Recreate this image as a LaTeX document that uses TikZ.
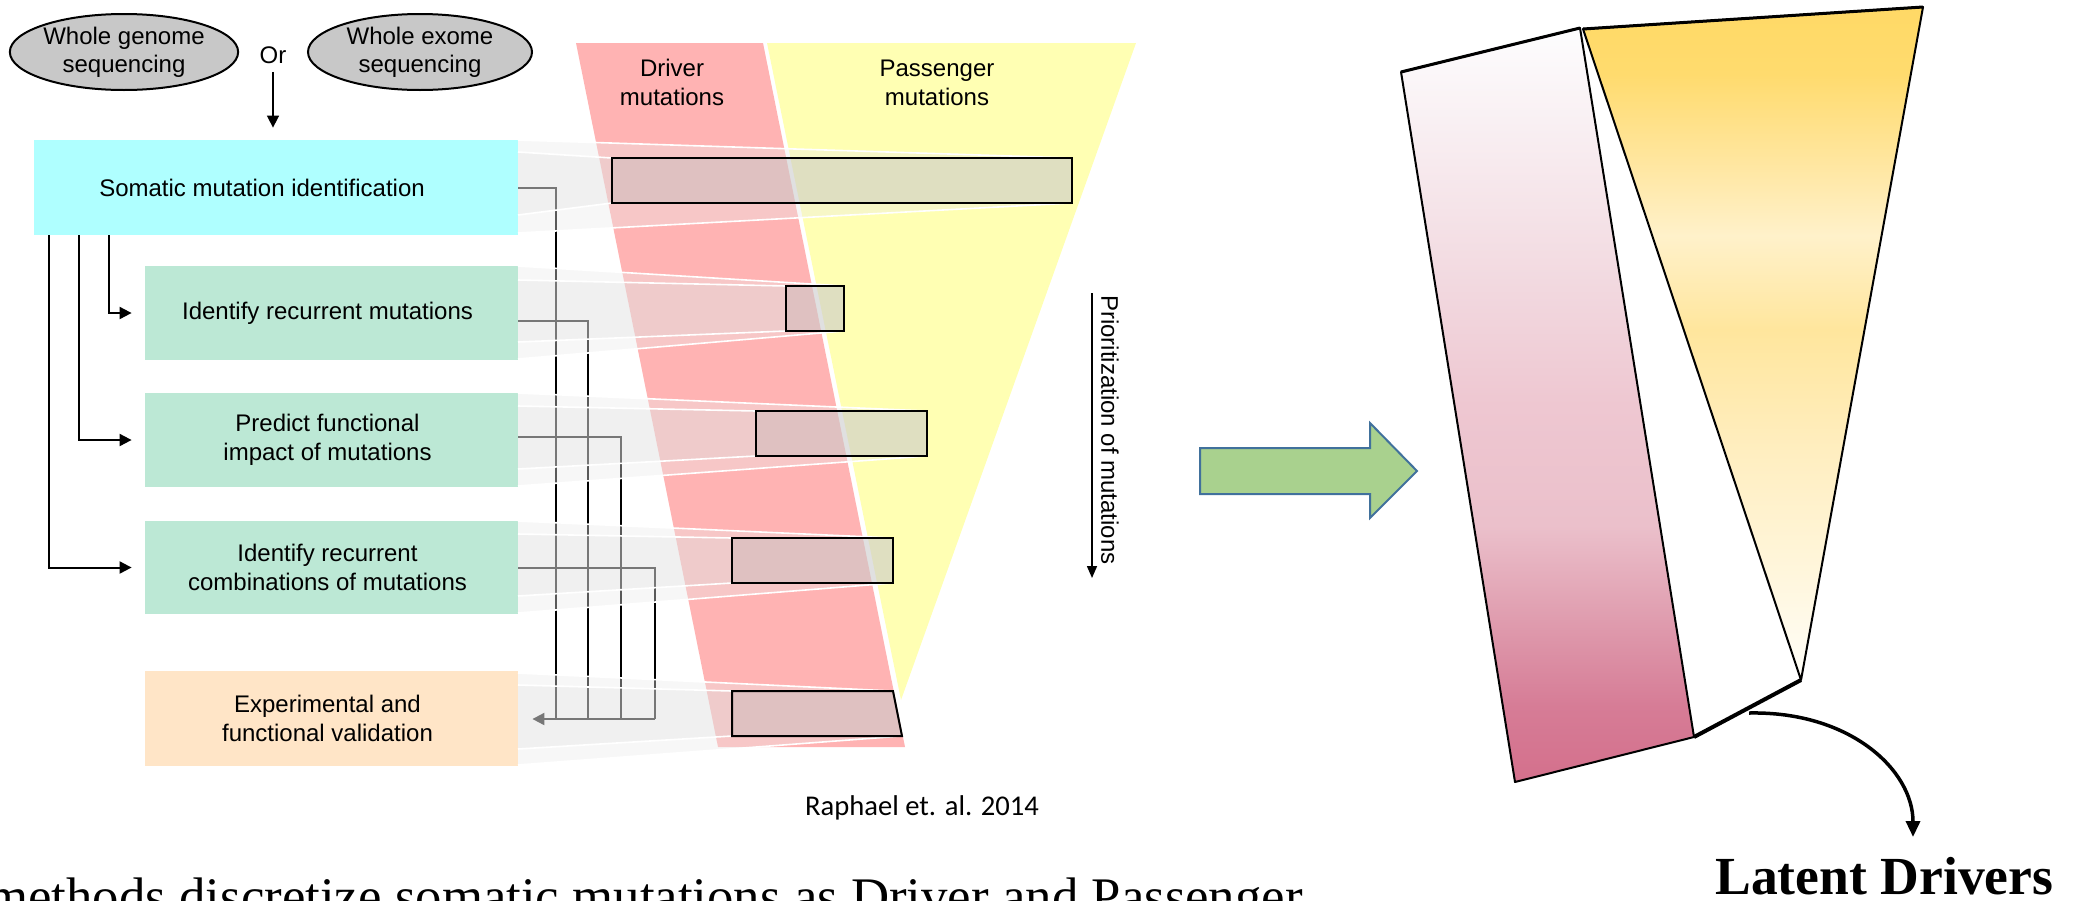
\documentclass[tikz,border=0pt]{standalone}
\usepackage{fontspec}
\setmainfont{Liberation Serif}
\newfontfamily\arialf{Liberation Sans}
\newfontfamily\calibf{Carlito}
\usetikzlibrary{arrows.meta,shapes.geometric,calc}
\definecolor{redband}{HTML}{FFB3B3}
\definecolor{yelband}{HTML}{FFFFB3}
\definecolor{cyanc}{HTML}{AFFFFF}
\definecolor{greenc}{HTML}{BCE8D5}
\definecolor{orangec}{HTML}{FFE5C7}
\definecolor{ellc}{HTML}{C8C8C8}
\definecolor{agreen}{HTML}{A9D18E}
\definecolor{ablue}{HTML}{41719C}
\definecolor{beamO}{HTML}{EAEAEA}
\definecolor{beamI}{HTML}{D9D9D9}
\definecolor{barc}{HTML}{B7B7B7}
\definecolor{pk0}{HTML}{D4708C}
\definecolor{pk1}{HTML}{D67C96}
\definecolor{pk2}{HTML}{DE98AB}
\definecolor{pk3}{HTML}{EBC0CB}
\definecolor{pk4}{HTML}{EEC7D1}
\definecolor{pk5}{HTML}{F3DDE3}
\definecolor{pk6}{HTML}{FDFDFE}
\definecolor{yl0}{HTML}{FFFEF9}
\definecolor{yl1}{HTML}{FFF6DC}
\definecolor{yl2}{HTML}{FFEEC0}
\definecolor{yl3}{HTML}{FFE69D}
\definecolor{yl4}{HTML}{FFF1CA}
\definecolor{yl5}{HTML}{FFE7A3}
\definecolor{yl6}{HTML}{FFDB6E}
\definecolor{yl7}{HTML}{FFD966}
\pgfdeclareverticalshading{pinkshade}{100bp}{color(0bp)=(pk0); color(25bp)=(pk0); color(30bp)=(pk1); color(35bp)=(pk2); color(42bp)=(pk3); color(50bp)=(pk4); color(60bp)=(pk5); color(75bp)=(pk6); color(100bp)=(pk6)}
\pgfdeclareverticalshading{yelshade}{100bp}{color(0bp)=(yl0); color(25bp)=(yl0); color(33bp)=(yl1); color(42bp)=(yl2); color(51bp)=(yl3); color(58bp)=(yl4); color(63bp)=(yl5); color(70bp)=(yl6); color(75bp)=(yl7); color(100bp)=(yl7)}
\begin{document}
\begin{tikzpicture}[x=0.5pt,y=-0.5pt,
  boxtxt/.style={font={\arialf\fontsize{12pt}{14.5pt}\selectfont}},
  flowbox/.style={rectangle, draw=none, inner sep=0pt, align=center, boxtxt},
  ell/.style={ellipse, draw=black, line width=1pt, fill=ellc, inner sep=0pt, minimum width=112pt, minimum height=38pt, align=center, font={\arialf\fontsize{12pt}{14pt}\selectfont}},
  conn/.style={draw=black, line width=1pt},
  tri/.style={-{Triangle[length=6pt,width=6pt]}},
  outerbeam/.style={fill=beamO, fill opacity=0.38, draw=none},
  innerbeam/.style={fill=beamI, fill opacity=0.234, draw=none},
  beamedge/.style={draw=white, line width=0.8pt},
  barbox/.style={fill=barc, fill opacity=0.36, draw=black, line width=1pt},
  bandlbl/.style={align=center, font={\arialf\fontsize{12pt}{14.5pt}\selectfont}}
]
\useasboundingbox (0,0) rectangle (2080,900);

% funnel bands
\fill[redband] (576,43) -- (763,43) -- (905,747) -- (718,747) -- cycle;
\fill[yelband] (767,43) -- (1136,43) -- (901,700) -- cycle;

% ellipses and Or
\node[ell] (wgs) at (124,52) {Whole genome\\sequencing};
\node[ell] (wes) at (420,52) {Whole exome\\sequencing};
\node[font={\arialf\fontsize{12pt}{14pt}\selectfont}, inner sep=1pt] (or) at (273,55) {Or};

% flow boxes
\node[flowbox, fill=cyanc, minimum width=242pt, minimum height=47.5pt] (cyan) at (276,187.5) {\hspace*{-14pt}Somatic mutation identification};
\node[flowbox, fill=greenc, minimum width=186.5pt, minimum height=47pt] (g1) at (331.5,313) {\hspace*{-4pt}Identify recurrent mutations};
\node[flowbox, fill=greenc, minimum width=186.5pt, minimum height=47pt] (g2) at (331.5,440) {\hspace*{-4pt}Predict functional\\\hspace*{-4pt}impact of mutations};
\node[flowbox, fill=greenc, minimum width=186.5pt, minimum height=46.5pt] (g3) at (331.5,567.5) {\hspace*{-4pt}Identify recurrent\\\hspace*{-4pt}combinations of mutations};
\node[flowbox, fill=orangec, minimum width=186.5pt, minimum height=47.5pt] (orange) at (331.5,718.5) {\hspace*{-4pt}Experimental and\\\hspace*{-4pt}functional validation};

% top arrow
\draw[conn, line width=0.8pt, tri, shorten <=3pt, shorten >=6pt] (or.south) -- (or.south |- cyan.north);

% left connectors
\draw[conn, tri, shorten >=6.5pt] ([xshift=37.5pt]cyan.south west) |- (g1.west);
\draw[conn, tri, shorten >=6.5pt] ([xshift=22.75pt]cyan.south west) |- (g2.west);
\draw[conn, tri, shorten >=6.5pt] ([xshift=7.5pt]cyan.south west) |- (g3.west);

% right connectors
\coordinate (v1) at (556,719);
\coordinate (v2) at (588,719);
\coordinate (v3) at (621,719);
\coordinate (v4) at (655,719);
\draw[conn] (cyan.east) -| (v1);
\draw[conn] ([yshift=-4pt]g1.east) -| (v2);
\draw[conn] ([yshift=1.5pt]g2.east) -| (v3);
\draw[conn] (g3.east) -| (v4);
\draw[conn, -{Triangle[length=6pt,width=6pt]}, shorten >=7pt] (v4) -- (orange.east |- v4);

% beams: box 1
\path[outerbeam] (518,140) -- (1072,158) -- (1072,203) -- (518,233) -- cycle;
\path[innerbeam] (518,152) -- (612,158) -- (612,203) -- (518,215) -- cycle;
\draw[beamedge] (518,140) -- (1072,158) (518,233) -- (1072,203);
\draw[beamedge] (518,152) -- (612,158) (518,215) -- (612,203);
% box 2
\path[outerbeam] (518,266) -- (844,286) -- (844,331) -- (518,359) -- cycle;
\path[innerbeam] (518,280) -- (786,286) -- (786,331) -- (518,342) -- cycle;
\draw[beamedge] (518,266) -- (844,286) (518,359) -- (844,331);
\draw[beamedge] (518,280) -- (786,286) (518,342) -- (786,331);
% box 3
\path[outerbeam] (518,393) -- (927,411) -- (927,456) -- (518,486) -- cycle;
\path[innerbeam] (518,406) -- (756,411) -- (756,456) -- (518,469) -- cycle;
\draw[beamedge] (518,393) -- (927,411) (518,486) -- (927,456);
\draw[beamedge] (518,406) -- (756,411) (518,469) -- (756,456);
% box 4
\path[outerbeam] (518,521) -- (893,538) -- (893,583) -- (518,613) -- cycle;
\path[innerbeam] (518,534) -- (732,538) -- (732,583) -- (518,596) -- cycle;
\draw[beamedge] (518,521) -- (893,538) (518,613) -- (893,583);
\draw[beamedge] (518,534) -- (732,538) (518,596) -- (732,583);
% box 5
\path[outerbeam] (518,673) -- (893,691) -- (902,736) -- (518,765) -- cycle;
\path[innerbeam] (518,685) -- (732,691) -- (732,736) -- (518,749) -- cycle;
\draw[beamedge] (518,673) -- (893,691) (518,765) -- (902,736);
\draw[beamedge] (518,685) -- (732,691) (518,749) -- (732,736);

% bars
\draw[barbox] (612,158) rectangle (1072,203);
\draw[barbox] (786,286) rectangle (844,331);
\draw[barbox] (756,411) rectangle (927,456);
\draw[barbox] (732,538) rectangle (893,583);
\draw[barbox] (732,691) -- (893,691) -- (902,736) -- (732,736) -- cycle;

% band labels
\node[bandlbl] (drv) at (672,82.5) {Driver\\mutations};
\node[bandlbl] (psg) at (937,82.5) {Passenger\\mutations};

% prioritization
\coordinate (pa) at (1092,293);
\coordinate (pb) at (1092,578);
\draw[line width=0.8pt, -{Triangle[length=6pt,width=5pt]}] (pa) -- (pb);
\node[rotate=-90, boxtxt, inner sep=0pt] (prio) at (1110,430) {Prioritization of mutations};

% reference
\node[font={\calibf\fontsize{14.3pt}{17pt}\selectfont}, anchor=base, inner sep=0pt] (ref) at (922,815) {Raphael et. al. 2014};

% green block arrow
\draw[fill=agreen, draw=ablue, line width=1pt, line join=miter] (1200,448) -- (1370,448) -- (1370,423) -- (1417,471) -- (1370,518) -- (1370,494) -- (1200,494) -- cycle;

% right figure
\path[shading=pinkshade] (1401,72) -- (1580,28) -- (1694,737) -- (1515,782) -- cycle;
\draw[line width=1pt, line join=round] (1401,72) -- (1580,28) -- (1694,737) -- (1515,782) -- cycle;
\draw[line width=1.5pt] (1401,72) -- (1580,28);
\path[shading=yelshade] (1583,29) -- (1923,7) -- (1801,680) -- cycle;
\draw[line width=1pt, line join=round] (1583,29) -- (1923,7) -- (1801,680) -- cycle;
\draw[line width=1.5pt] (1583,29) -- (1923,7);
\draw[line width=2pt] (1694,737) -- (1801,680);
\coordinate (ca) at (1749,713);
\coordinate (cb) at (1913,837);
\draw[line width=1.75pt, -{Triangle[length=8pt,width=7pt]}] (ca) .. controls (1850,711) and (1913,770) .. (cb);

\node[font={\bfseries\fontsize{26.8pt}{30pt}\selectfont}, anchor=base west, inner sep=0pt] (latent) at (1715,894) {Latent Drivers};
\node[font={\fontsize{26.4pt}{30pt}\selectfont}, anchor=base west, inner sep=0pt] (bottomtext) at (-13,914) {methods discretize somatic mutations as Driver and Passenger};
\end{tikzpicture}
\end{document}
